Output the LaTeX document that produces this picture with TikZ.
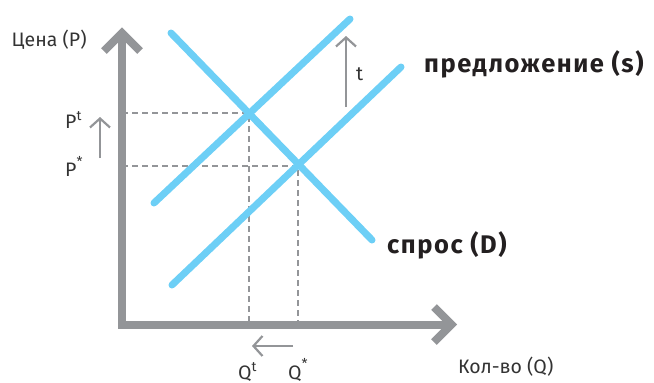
\documentclass[tikz,border=0pt]{standalone}
\usepackage{fontspec}
\setmainfont{Fira Sans}
\newfontfamily\handfont{Fira Sans}[LetterSpace=6]
\usetikzlibrary{arrows.meta}
\definecolor{axisgray}{HTML}{939598}
\definecolor{curvecyan}{HTML}{6DCFF6}
\definecolor{txt}{HTML}{333333}
\definecolor{labelblack}{HTML}{231F20}
\newcommand{\supt}{\textsuperscript{t}}
\newcommand{\supstar}{\textsuperscript{\raisebox{0.35ex}{*}}}
\tikzset{
  axisline/.style={draw=axisgray, line width=8pt, line join=miter, line cap=butt},
  curve/.style={draw=curvecyan, line width=7pt, line cap=round},
  guide/.style={draw=axisgray, line width=1.8pt, dash pattern=on 6pt off 4pt},
  shift arrow/.style={draw=axisgray, line width=2.2pt, -{Straight Barb[length=9pt,width=20pt,line width=2.2pt]}},
  axislabel/.style={text=txt, font=\fontsize{19.5}{22}\selectfont, inner sep=0pt},
  curvelabel/.style={text=labelblack, font=\handfont\bfseries\fontsize{25.5}{28}\selectfont, inner sep=0pt},
}
\begin{document}
\begin{tikzpicture}[x=1pt,y=-1pt]
\useasboundingbox (0,0) rectangle (654,383);
% coordinates
\coordinate (ytip) at (122,33);
\coordinate (origin) at (122,324.5);
\coordinate (xtip) at (451.5,324.5);
\coordinate (eqT) at (249,113);
\coordinate (eqS) at (298,166);
\coordinate (pT) at (122,113);
\coordinate (pS) at (122,166);
\coordinate (qT) at (249,324.5);
\coordinate (qS) at (298,324.5);
\coordinate (d1) at (171,33);
\coordinate (d2) at (372,240);
\coordinate (s1a) at (172,285);
\coordinate (s1b) at (401,67);
\coordinate (s2a) at (154,203);
\coordinate (s2b) at (350,19);
\coordinate (ta) at (346,107);
\coordinate (tb) at (346,36);
\coordinate (pa) at (100,158);
\coordinate (pb) at (100,117);
\coordinate (qa) at (293,346);
\coordinate (qb) at (252,346);
% guides
\draw[guide] (pT) -- (eqT) -- (qT);
\draw[guide] (pS) -- (eqS) -- (qS);
% axes
\draw[axisline] (ytip) -- (origin) -- (xtip);
\draw[axisline] (104,51) -- (ytip) -- (140,51);
\draw[axisline] (434,307) -- (xtip) -- (434,342);
% curves
\draw[curve] (d1) -- (d2);
\draw[curve] (s1a) -- (s1b);
\draw[curve] (s2a) -- (s2b);
% shift arrows
\draw[shift arrow] (ta) -- (tb);
\draw[shift arrow] (pa) -- (pb);
\draw[shift arrow] (qa) -- (qb);
% labels
\node[axislabel, anchor=base west] (ylab) at (11.5,46.5) {Цена (P)};
\node[axislabel, anchor=base west] (xlab) at (458,373) {Кол-во (Q)};
\node[axislabel, anchor=base west] (plt) at (65,128) {P\supt};
\node[axislabel, anchor=base west] (pls) at (65,176.5) {P\supstar};
\node[axislabel, anchor=base west] (qlt) at (238,379) {Q\supt};
\node[axislabel, anchor=base west] (qls) at (288,379) {Q\supstar};
\node[axislabel, anchor=base west] (tl) at (356,80) {t};
\node[curvelabel, anchor=base west] (slab) at (424,72) {предложение (s)};
\node[curvelabel, anchor=base west] (dlab) at (387,253) {спрос (D)};
\end{tikzpicture}
\end{document}
